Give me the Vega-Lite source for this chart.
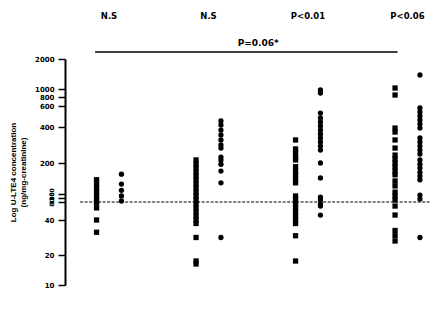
{
  "$schema": "https://vega.github.io/schema/vega-lite/v6.json",
  "width": 383,
  "height": 226,
  "autosize": {"type": "none"},
  "padding": {"left": 65, "top": 59, "right": 0, "bottom": 37},
  "background": "white",
  "config": {
    "view": {"stroke": null},
    "font": "DejaVu Sans",
    "axis": {"grid": false, "domainColor": "black", "tickColor": "black", "labelColor": "black", "titleColor": "black"}
  },
  "datasets": {
    "points": [
      {"severity": "intermittent", "series": "s1", "value": 173},
      {"severity": "intermittent", "series": "s1", "value": 166},
      {"severity": "intermittent", "series": "s1", "value": 160},
      {"severity": "intermittent", "series": "s1", "value": 153},
      {"severity": "intermittent", "series": "s1", "value": 125},
      {"severity": "intermittent", "series": "s1", "value": 90},
      {"severity": "intermittent", "series": "s1", "value": 78},
      {"severity": "intermittent", "series": "s1", "value": 67},
      {"severity": "intermittent", "series": "s1", "value": 40},
      {"severity": "intermittent", "series": "s1", "value": 33},
      {"severity": "intermittent", "series": "s2", "value": 182},
      {"severity": "intermittent", "series": "s2", "value": 166},
      {"severity": "intermittent", "series": "s2", "value": 156},
      {"severity": "intermittent", "series": "s2", "value": 125},
      {"severity": "intermittent", "series": "s2", "value": 85},
      {"severity": "mild", "series": "s1", "value": 217},
      {"severity": "mild", "series": "s1", "value": 198},
      {"severity": "mild", "series": "s1", "value": 192},
      {"severity": "mild", "series": "s1", "value": 185},
      {"severity": "mild", "series": "s1", "value": 179},
      {"severity": "mild", "series": "s1", "value": 173},
      {"severity": "mild", "series": "s1", "value": 166},
      {"severity": "mild", "series": "s1", "value": 160},
      {"severity": "mild", "series": "s1", "value": 153},
      {"severity": "mild", "series": "s1", "value": 125},
      {"severity": "mild", "series": "s1", "value": 90},
      {"severity": "mild", "series": "s1", "value": 76},
      {"severity": "mild", "series": "s1", "value": 67},
      {"severity": "mild", "series": "s1", "value": 58},
      {"severity": "mild", "series": "s1", "value": 49},
      {"severity": "mild", "series": "s1", "value": 40},
      {"severity": "mild", "series": "s1", "value": 38},
      {"severity": "mild", "series": "s1", "value": 30},
      {"severity": "mild", "series": "s1", "value": 18},
      {"severity": "mild", "series": "s1", "value": 17},
      {"severity": "mild", "series": "s2", "value": 457},
      {"severity": "mild", "series": "s2", "value": 419},
      {"severity": "mild", "series": "s2", "value": 383},
      {"severity": "mild", "series": "s2", "value": 356},
      {"severity": "mild", "series": "s2", "value": 328},
      {"severity": "mild", "series": "s2", "value": 300},
      {"severity": "mild", "series": "s2", "value": 283},
      {"severity": "mild", "series": "s2", "value": 233},
      {"severity": "mild", "series": "s2", "value": 217},
      {"severity": "mild", "series": "s2", "value": 198},
      {"severity": "mild", "series": "s2", "value": 187},
      {"severity": "mild", "series": "s2", "value": 168},
      {"severity": "mild", "series": "s2", "value": 30},
      {"severity": "moderate", "series": "s1", "value": 328},
      {"severity": "moderate", "series": "s1", "value": 278},
      {"severity": "moderate", "series": "s1", "value": 256},
      {"severity": "moderate", "series": "s1", "value": 233},
      {"severity": "moderate", "series": "s1", "value": 217},
      {"severity": "moderate", "series": "s1", "value": 194},
      {"severity": "moderate", "series": "s1", "value": 187},
      {"severity": "moderate", "series": "s1", "value": 181},
      {"severity": "moderate", "series": "s1", "value": 174},
      {"severity": "moderate", "series": "s1", "value": 168},
      {"severity": "moderate", "series": "s1", "value": 125},
      {"severity": "moderate", "series": "s1", "value": 90},
      {"severity": "moderate", "series": "s1", "value": 76},
      {"severity": "moderate", "series": "s1", "value": 67},
      {"severity": "moderate", "series": "s1", "value": 58},
      {"severity": "moderate", "series": "s1", "value": 49},
      {"severity": "moderate", "series": "s1", "value": 40},
      {"severity": "moderate", "series": "s1", "value": 38},
      {"severity": "moderate", "series": "s1", "value": 31},
      {"severity": "moderate", "series": "s1", "value": 18},
      {"severity": "moderate", "series": "s2", "value": 975},
      {"severity": "moderate", "series": "s2", "value": 900},
      {"severity": "moderate", "series": "s2", "value": 533},
      {"severity": "moderate", "series": "s2", "value": 486},
      {"severity": "moderate", "series": "s2", "value": 448},
      {"severity": "moderate", "series": "s2", "value": 410},
      {"severity": "moderate", "series": "s2", "value": 383},
      {"severity": "moderate", "series": "s2", "value": 361},
      {"severity": "moderate", "series": "s2", "value": 339},
      {"severity": "moderate", "series": "s2", "value": 317},
      {"severity": "moderate", "series": "s2", "value": 294},
      {"severity": "moderate", "series": "s2", "value": 272},
      {"severity": "moderate", "series": "s2", "value": 200},
      {"severity": "moderate", "series": "s2", "value": 176},
      {"severity": "moderate", "series": "s2", "value": 112},
      {"severity": "moderate", "series": "s2", "value": 90},
      {"severity": "moderate", "series": "s2", "value": 76},
      {"severity": "moderate", "series": "s2", "value": 71},
      {"severity": "moderate", "series": "s2", "value": 51},
      {"severity": "severe", "series": "s1", "value": 1033},
      {"severity": "severe", "series": "s1", "value": 850},
      {"severity": "severe", "series": "s1", "value": 394},
      {"severity": "severe", "series": "s1", "value": 372},
      {"severity": "severe", "series": "s1", "value": 328},
      {"severity": "severe", "series": "s1", "value": 283},
      {"severity": "severe", "series": "s1", "value": 244},
      {"severity": "severe", "series": "s1", "value": 222},
      {"severity": "severe", "series": "s1", "value": 200},
      {"severity": "severe", "series": "s1", "value": 194},
      {"severity": "severe", "series": "s1", "value": 187},
      {"severity": "severe", "series": "s1", "value": 181},
      {"severity": "severe", "series": "s1", "value": 171},
      {"severity": "severe", "series": "s1", "value": 163},
      {"severity": "severe", "series": "s1", "value": 153},
      {"severity": "severe", "series": "s1", "value": 125},
      {"severity": "severe", "series": "s1", "value": 90},
      {"severity": "severe", "series": "s1", "value": 71},
      {"severity": "severe", "series": "s1", "value": 51},
      {"severity": "severe", "series": "s1", "value": 34},
      {"severity": "severe", "series": "s1", "value": 31},
      {"severity": "severe", "series": "s1", "value": 28},
      {"severity": "severe", "series": "s2", "value": 1467},
      {"severity": "severe", "series": "s2", "value": 581},
      {"severity": "severe", "series": "s2", "value": 543},
      {"severity": "severe", "series": "s2", "value": 505},
      {"severity": "severe", "series": "s2", "value": 467},
      {"severity": "severe", "series": "s2", "value": 429},
      {"severity": "severe", "series": "s2", "value": 394},
      {"severity": "severe", "series": "s2", "value": 339},
      {"severity": "severe", "series": "s2", "value": 317},
      {"severity": "severe", "series": "s2", "value": 294},
      {"severity": "severe", "series": "s2", "value": 272},
      {"severity": "severe", "series": "s2", "value": 250},
      {"severity": "severe", "series": "s2", "value": 217},
      {"severity": "severe", "series": "s2", "value": 198},
      {"severity": "severe", "series": "s2", "value": 192},
      {"severity": "severe", "series": "s2", "value": 185},
      {"severity": "severe", "series": "s2", "value": 179},
      {"severity": "severe", "series": "s2", "value": 173},
      {"severity": "severe", "series": "s2", "value": 137},
      {"severity": "severe", "series": "s2", "value": 95},
      {"severity": "severe", "series": "s2", "value": 30}
    ],
    "refline": [{"from": "intermittent", "to": "severe", "value": 80}],
    "bracket": [{"from": "intermittent", "to": "severe", "value": 2233}],
    "bracketLabel": [{"group": "mild", "value": 2520, "label": "P=0.06*"}],
    "tests": [
      {"group": "intermittent", "value": 3450, "label": "N.S"},
      {"group": "mild", "value": 3450, "label": "N.S"},
      {"group": "moderate", "value": 3450, "label": "P<0.01"},
      {"group": "severe", "value": 3450, "label": "P<0.06"}
    ]
  },
  "layer": [
    {
      "data": {"name": "points"},
      "mark": {"type": "point", "filled": true, "opacity": 1, "color": "black", "size": 28},
      "encoding": {
        "x": {
          "field": "severity", "type": "nominal",
          "scale": {"type": "band", "domain": ["intermittent", "mild", "moderate", "severe"], "range": [-5.75, 392.25], "paddingInner": 0, "paddingOuter": 0},
          "axis": {"title": null, "labelAngle": 0, "ticks": false, "labelFontSize": 11, "labelFontWeight": "bold", "labelPadding": 11, "domainWidth": 2, "offset": 5}
        },
        "xOffset": {"field": "series", "type": "nominal", "scale": {"type": "band", "domain": ["s1", "s2"], "paddingInner": 0, "paddingOuter": 1.76}},
        "y": {
          "field": "value", "type": "quantitative",
          "scale": {"type": "linear", "domain": [10, 20, 40, 80, 100, 150, 200, 400, 600, 800, 1000, 2000], "range": [226, 196, 161, 143, 139, 135, 104, 68, 47, 38, 30, 0], "zero": false, "nice": false},
          "axis": {
            "values": [10, 20, 40, 200, 400, 600, 800, 1000, 2000], "format": "d",
            "title": ["Log U-LTE4 concentration", "(ng/mg-creatinine)"],
            "titleFont": "Liberation Sans", "titleFontSize": 8, "titleFontWeight": "bold", "titlePadding": 7, "titleLineHeight": 10,
            "labelFontSize": 7, "labelFontWeight": "bold", "labelPadding": 4, "labelOverlap": false, "labelFlush": false,
            "tickSize": 7, "tickWidth": 1.5, "domainWidth": 2
          }
        },
        "shape": {"field": "series", "type": "nominal", "scale": {"domain": ["s1", "s2"], "range": ["square", "circle"]}, "legend": null}
      }
    },
    {
      "data": {"name": "refline"},
      "mark": {"type": "rule", "strokeDash": [3, 1.5], "strokeWidth": 1, "color": "black"},
      "encoding": {
        "x": {"field": "from", "type": "nominal", "bandPosition": 0.21, "axis": null},
        "x2": {"field": "to", "bandPosition": 0.73},
        "y": {
          "field": "value", "type": "quantitative",
          "scale": {"type": "linear", "domain": [10, 20, 40, 80, 100, 150, 200, 400, 600, 800, 1000, 2000], "range": [226, 196, 161, 143, 139, 135, 104, 68, 47, 38, 30, 0], "zero": false, "nice": false},
          "axis": {
            "orient": "left", "values": [80, 100, 150], "format": "d", "title": null, "domain": false,
            "labelAngle": -90, "labelFontSize": 6, "labelFontWeight": "bold", "labelPadding": 4, "labelOverlap": false, "labelFlush": false,
            "tickSize": 7, "tickWidth": 1.5
          }
        }
      }
    },
    {
      "data": {"name": "bracket"},
      "mark": {"type": "rule", "strokeWidth": 1.5, "color": "black", "clip": false},
      "encoding": {
        "x": {"field": "from", "type": "nominal", "bandPosition": 0.36, "axis": null},
        "x2": {"field": "to", "bandPosition": 0.4},
        "y": {"field": "value", "type": "quantitative", "axis": null}
      }
    },
    {
      "data": {"name": "bracketLabel"},
      "mark": {"type": "text", "font": "DejaVu Sans", "fontWeight": "bold", "fontSize": 9, "color": "black", "baseline": "middle", "clip": false},
      "encoding": {
        "x": {"field": "group", "type": "nominal", "bandPosition": 1, "axis": null},
        "y": {"field": "value", "type": "quantitative", "axis": null},
        "text": {"field": "label"}
      }
    },
    {
      "data": {"name": "tests"},
      "mark": {"type": "text", "font": "DejaVu Sans", "fontWeight": "bold", "fontSize": 8.5, "color": "black", "baseline": "middle", "clip": false},
      "encoding": {
        "x": {"field": "group", "type": "nominal", "axis": null},
        "y": {"field": "value", "type": "quantitative", "axis": null},
        "text": {"field": "label"}
      }
    }
  ],
  "resolve": {"axis": {"y": "independent"}}
}
